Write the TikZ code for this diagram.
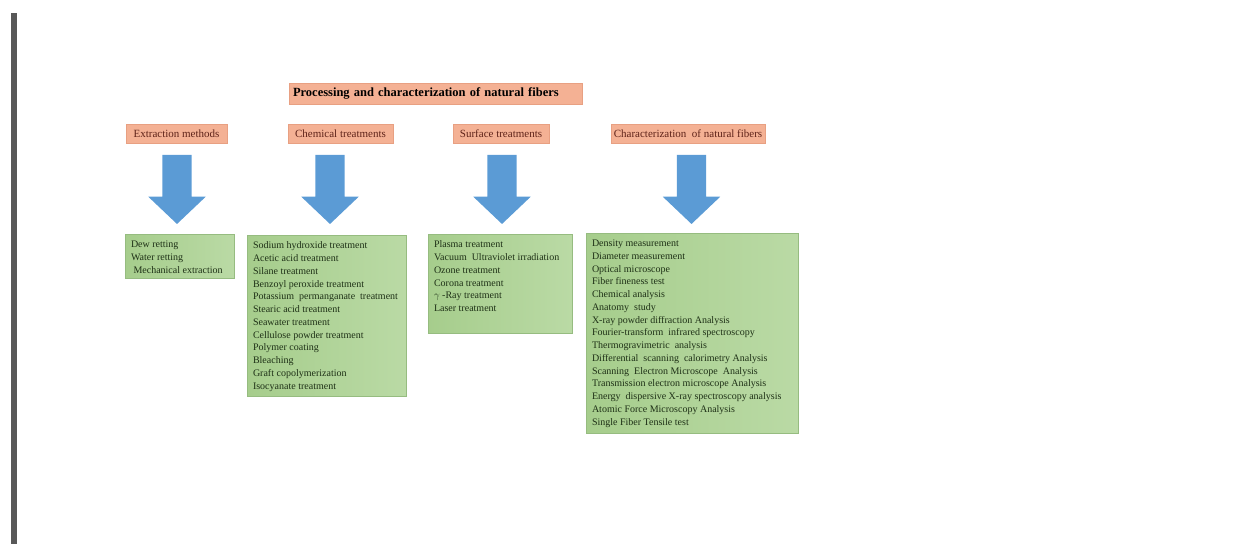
\documentclass[tikz,border=0pt]{standalone}
\usepackage{fontspec}
\setmainfont{Liberation Serif}
\usetikzlibrary{shapes,arrows,positioning}

\definecolor{salmon}{RGB}{244,177,148}
\definecolor{salmonline}{RGB}{232,160,130}
\definecolor{hdrtext}{RGB}{95,35,25}
\definecolor{leafA}{RGB}{166,205,140}
\definecolor{leafB}{RGB}{186,218,165}
\definecolor{leafline}{RGB}{150,188,128}
\definecolor{listtext}{RGB}{30,48,22}
\definecolor{skyblue}{RGB}{91,155,213}
\definecolor{pagebar}{RGB}{88,88,88}

\begin{document}
\begin{tikzpicture}[%
    x=1pt, y=-1pt,              % pixel grid, y runs downwards
    node distance=7pt and 6pt,  % inset of the lists in their boxes
    ]
% -------------------------------------------------
% Styles
\tikzset{
  base/.style={inner sep=0pt, outer sep=0pt},
  titlebox/.style={base, fill=salmon, draw=salmonline, text width=285pt,
    inner xsep=4pt, minimum height=21pt, align=left,
    font=\fontsize{12.5}{14}\selectfont\bfseries},
  head/.style={base, fill=salmon, draw=salmonline, minimum height=19pt,
    text=hdrtext, font=\fontsize{11}{13}\selectfont},
  leaf/.style={base, anchor=north west, left color=leafA, right color=leafB,
    draw=leafline, thin},
  items/.style={base, align=left, text=listtext,
    font=\fontsize{10}{12.75}\selectfont},
  down/.style={base, single arrow, rotate=-90, fill=skyblue,
    inner ysep=14.5pt, minimum height=69pt,
    single arrow head extend=14pt, single arrow tip angle=93,
    single arrow head indent=0pt}
}
\useasboundingbox (0,0) rectangle (1237,544);
\fill[pagebar] (11,13) rectangle (17,544);
% -------------------------------------------------
% Title and the four headings

\node [titlebox] (title) at (435.5,93.5) {Processing and characterization of natural fibers};
\node [head, minimum width=101pt] (ext) at (176.5,133.5) {Extraction methods};
\node [head, minimum width=105pt] (chem) at (340.5,133.5) {Chemical treatments};
\node [head, minimum width=96pt] (surf) at (501,133.5) {Surface treatments};
\node [head, minimum width=154pt] (char) at (688,133.5) {Characterization\ \ of natural fibers};

% Block arrows
\node [down] (a1) at (177,182.5) {};
\node [down] (a2) at (330,182.5) {};
\node [down] (a3) at (502,182.5) {};
\node [down] (a4) at (691.5,182.5) {};

% Green boxes
\node [leaf, minimum width=109pt, minimum height=44pt] (extbox) at (125,234) {};
\node [leaf, minimum width=159pt, minimum height=161pt] (chembox) at (247,235) {};
\node [leaf, minimum width=144pt, minimum height=99pt] (surfbox) at (428,234) {};
\node [leaf, minimum width=212pt, minimum height=200pt] (charbox) at (586,233) {};

% Lists
\node [items, below right=of extbox.north west] (extlist) {Dew retting\\Water retting\\
\ Mechanical extraction};
\node [items, below right=of chembox.north west] (chemlist) {Sodium hydroxide treatment\\
Acetic acid treatment\\Silane treatment\\Benzoyl peroxide treatment\\
Potassium\ \ permanganate\ \ treatment\\Stearic acid treatment\\Seawater treatment\\
Cellulose powder treatment\\Polymer coating\\Bleaching\\Graft copolymerization\\
Isocyanate treatment};
\node [items, below right=of surfbox.north west] (surflist) {Plasma treatment\\
Vacuum\ \ Ultraviolet irradiation\\Ozone treatment\\Corona treatment\\
$\gamma$ -Ray treatment\\Laser treatment};
\node [items, below right=of charbox.north west] (charlist) {Density measurement\\
Diameter measurement\\Optical microscope\\Fiber fineness test\\Chemical analysis\\
Anatomy\ \ study\\X-ray powder diffraction Analysis\\
Fourier-transform\ \ infrared spectroscopy\\Thermogravimetric\ \ analysis\\
Differential\ \ scanning\ \ calorimetry Analysis\\
Scanning\ \ Electron Microscope\ \ Analysis\\
Transmission electron microscope Analysis\\
Energy\ \ dispersive X-ray spectroscopy analysis\\
Atomic Force Microscopy Analysis\\Single Fiber Tensile test};

% -------------------------------------------------
\end{tikzpicture}
\end{document}
